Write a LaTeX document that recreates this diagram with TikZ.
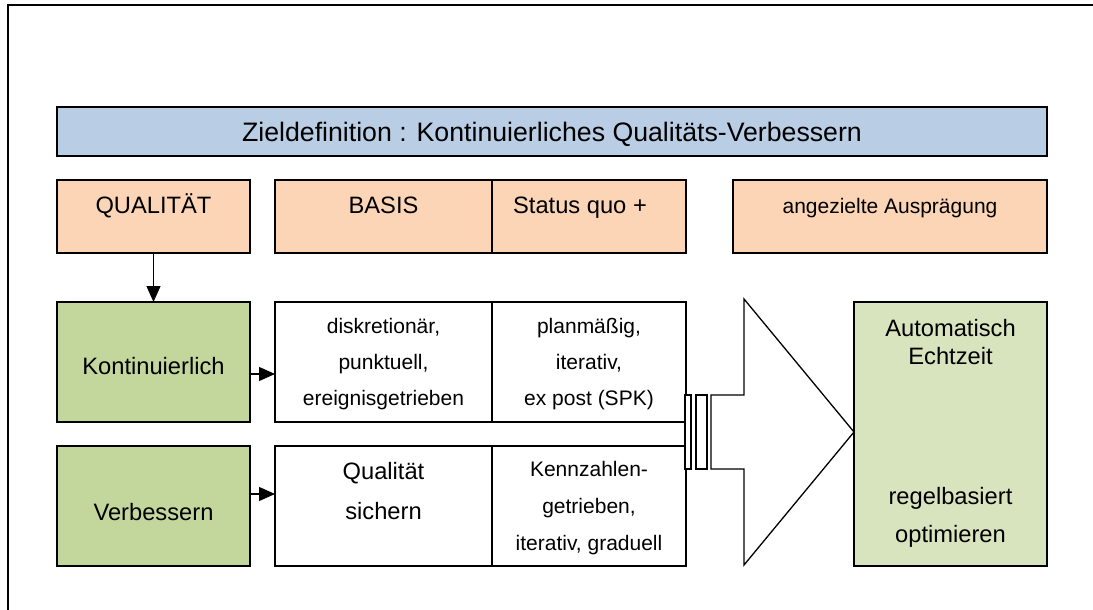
\documentclass[tikz,border=0pt]{standalone}
\usepackage{fontspec}
\setmainfont{Liberation Sans}
\usetikzlibrary{arrows.meta,calc}
\definecolor{titleblue}{HTML}{B9CDE5}
\definecolor{peach}{HTML}{FBD5B5}
\definecolor{leafgreen}{HTML}{C3D69B}
\definecolor{palegreen}{HTML}{D7E4BD}
\begin{document}
\begin{tikzpicture}[x=1pt,y=-1pt,
  box/.style={draw=black, line width=1.3pt, anchor=north west, inner sep=0pt, outer sep=0pt},
  big/.style={anchor=base, inner sep=0pt, font=\fontsize{23.7}{28}\selectfont},
  small/.style={anchor=base, inner sep=0pt, font=\fontsize{21}{25}\selectfont},
  arr/.style={line width=1.2pt, -{Triangle[length=16pt,width=14pt]}}]
\useasboundingbox (0,0) rectangle (1093,610);
% outer frame (top and left edges)
\draw[line width=2pt] (8,610) -- (8,5) -- (1093,5);

% title bar
\node[box, fill=titleblue, minimum width=990pt, minimum height=49pt] (title) at (57,107) {};
\node[anchor=base, inner sep=0pt, font=\fontsize{26.7}{30}\selectfont] (titletxt) at (552,141)
  {Zieldefinition : Kontinuierliches Qualitäts-Verbessern};

% header row
\node[box, fill=peach, minimum width=193pt, minimum height=73pt] (qual) at (57,180) {};
\node[box, fill=peach, minimum width=217pt, minimum height=73pt] (basis) at (275,180) {};
\node[box, fill=peach, minimum width=194pt, minimum height=73pt] (status) at (492,180) {};
\node[box, fill=peach, minimum width=314pt, minimum height=73pt] (target) at (733,180) {};
\node[big] (qualtxt) at (153.5,213) {QUALITÄT};
\node[big] (basistxt) at (383.5,213) {BASIS};
\node[big] (statustxt) at (580,213) {Status quo +};
\node[small] (targettxt) at (890,213) {angezielte Ausprägung};

% left column
\node[box, fill=leafgreen, minimum width=193pt, minimum height=120pt] (kont) at (57,302) {};
\node[box, fill=leafgreen, minimum width=193pt, minimum height=120pt] (verb) at (57,446) {};
\node[big] (konttxt) at (153.5,374) {Kontinuierlich};
\node[big] (verbtxt) at (153.5,520) {Verbessern};

% middle table
\node[box, fill=white, minimum width=217pt, minimum height=120pt] (disk) at (275,302) {};
\node[box, fill=white, minimum width=194pt, minimum height=120pt] (plan) at (492,302) {};
\node[box, fill=white, minimum width=217pt, minimum height=120pt] (sich) at (275,446) {};
\node[box, fill=white, minimum width=194pt, minimum height=120pt] (kenn) at (492,446) {};

\node[small] (disk1) at (383.5,333) {diskretionär,};
\node[small] (disk2) at (383.5,369) {punktuell,};
\node[small] (disk3) at (383.5,405) {ereignisgetrieben};
\node[small] (plan1) at (589,333) {planmäßig,};
\node[small] (plan2) at (589,369) {iterativ,};
\node[small] (plan3) at (589,405) {ex post (SPK)};
\node[big] (sich1) at (383.5,479) {Qualität};
\node[big] (sich2) at (383.5,519) {sichern};
\node[small] (kenn1) at (589,476) {Kennzahlen-};
\node[small] (kenn2) at (589,513) {getrieben,};
\node[small] (kenn3) at (589,550) {iterativ, graduell};

% connectors
\draw[arr] (qual.south) -- (kont.north);
\draw[arr] (kont.east |- 0,374) -- (disk.west |- 0,374);
\draw[arr] (verb.east |- 0,494) -- (sich.west |- 0,494);

% broad transition arrow with its two bars
\draw[line width=1.3pt, fill=white] (685,395) rectangle (691,469);
\draw[line width=1.3pt, fill=white] (696,395) rectangle (707,469);
\draw[line width=1.3pt, fill=white, line join=miter]
  (711,395) -- (744,395) -- (744,299) -- (854,432) -- (744,565) -- (744,469) -- (711,469) -- cycle;

% goal box
\node[box, fill=palegreen, minimum width=193pt, minimum height=264pt] (goal) at (854,302) {};
\node[big] (goal1) at (950.5,336) {Automatisch};
\node[big] (goal2) at (950.5,364) {Echtzeit};
\node[big] (goal3) at (950.5,504) {regelbasiert};
\node[big] (goal4) at (950.5,542) {optimieren};
\end{tikzpicture}
\end{document}
